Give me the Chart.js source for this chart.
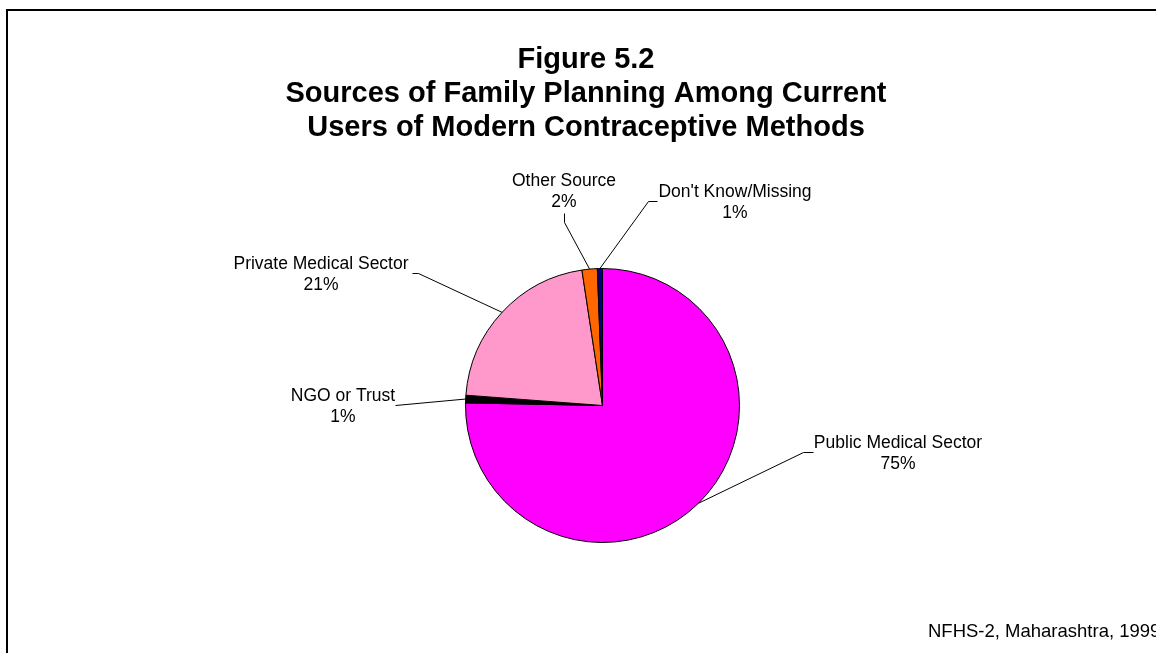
<!DOCTYPE html>
<html>
<head>
<meta charset="utf-8">
<script src="https://cdn.jsdelivr.net/npm/chart.js@4.4.0/dist/chart.umd.min.js"></script>
<style>
  html, body { margin: 0; padding: 0; background: #fff; }
  canvas { display: block; }
</style>
</head>
<body>
<canvas id="chart" width="1156" height="653"></canvas>
<script>
const categories = ['Public Medical Sector', 'NGO or Trust', 'Private Medical Sector', 'Other Source', "Don't Know/Missing"];
const shares = [75.3, 0.9, 21.4, 1.8, 0.6];
const sliceColors = ['#FF00FF', '#000000', '#FF99CC', '#FF6600', '#000080'];
const titleLines = ['Figure 5.2', 'Sources of Family Planning Among Current', 'Users of Modern Contraceptive Methods'];
const sourceNote = 'NFHS-2, Maharashtra, 1999';

// where each label sits and where its leader line bends
const labelSpots = [
    { x: 898, y: 448, bend: [803, 452], end: [813, 452] },
    { x: 343, y: 401, bend: [395, 405], end: [395, 405] },
    { x: 321, y: 269, bend: [418, 273], end: [412, 273] },
    { x: 564, y: 186, bend: [564, 222], end: [564, 213] },
    { x: 735, y: 197, bend: [648, 201], end: [657, 201] }
];

const labelFont = '17.5px "Liberation Sans", Arial, sans-serif';

const annotate = {
    id: 'annotate',
    beforeDraw(chart) {
        const ctx = chart.ctx;
        ctx.save();
        ctx.fillStyle = '#fff';
        ctx.fillRect(0, 0, chart.width, chart.height);
        ctx.strokeStyle = '#000';
        ctx.lineWidth = 2;
        ctx.strokeRect(7, 10, 1200, 700);
        ctx.restore();
    },
    afterDraw(chart) {
        const ctx = chart.ctx;
        ctx.save();
        ctx.fillStyle = '#000';
        ctx.textAlign = 'center';
        ctx.textBaseline = 'alphabetic';

        ctx.font = 'bold 29px "Liberation Sans", Arial, sans-serif';
        titleLines.forEach((line, i) => ctx.fillText(line, 586, 68 + i * 34));

        const arcs = chart.getDatasetMeta(0).data;
        ctx.strokeStyle = '#000';
        ctx.lineWidth = 1;
        ctx.font = labelFont;
        arcs.forEach((arc, i) => {
            const p = arc.getProps(['x', 'y', 'startAngle', 'endAngle', 'outerRadius'], true);
            const mid = (p.startAngle + p.endAngle) / 2;
            const px = p.x + Math.cos(mid) * p.outerRadius;
            const py = p.y + Math.sin(mid) * p.outerRadius;
            const spot = labelSpots[i];

            ctx.beginPath();
            ctx.moveTo(px, py);
            ctx.lineTo(spot.bend[0] + 0.5, spot.bend[1] + 0.5);
            ctx.lineTo(spot.end[0] + 0.5, spot.end[1] + 0.5);
            ctx.stroke();

            ctx.fillText(categories[i], spot.x, spot.y);
            ctx.fillText(Math.round(shares[i]) + '%', spot.x, spot.y + 21);
        });

        ctx.textAlign = 'left';
        ctx.font = '18.5px "Liberation Sans", Arial, sans-serif';
        ctx.fillText(sourceNote, 928, 637);
        ctx.restore();
    }
};

new Chart(document.getElementById('chart'), {
    type: 'pie',
    data: {
        labels: categories,
        datasets: [{
            data: shares,
            backgroundColor: sliceColors,
            borderColor: '#000',
            borderWidth: 1
        }]
    },
    options: {
        responsive: false,
        animation: false,
        layout: {
            padding: { left: 465, right: 416, top: 268, bottom: 110 }
        },
        plugins: {
            legend: { display: false },
            tooltip: { enabled: false },
            title: { display: false }
        }
    },
    plugins: [annotate]
});
</script>
</body>
</html>
